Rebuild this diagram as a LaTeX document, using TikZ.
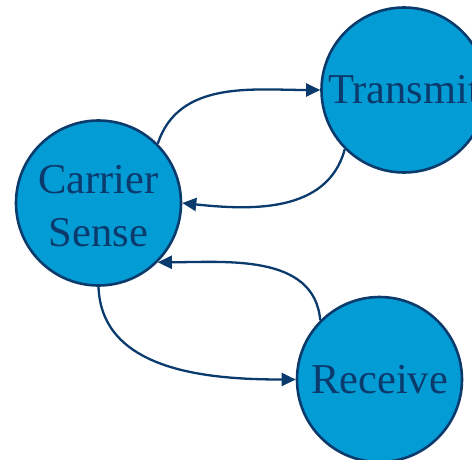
\documentclass[tikz,border=0pt]{standalone}
\usepackage{fontspec}
\setmainfont{Liberation Serif}
\usepackage{tikz}
\usetikzlibrary{arrows.meta}
\definecolor{bluex}{HTML}{049CD5}
\definecolor{navyx}{HTML}{0B3A6C}
\tikzset{
  st/.style={circle,draw=navyx,line width=2.6pt,fill=bluex,text=navyx,minimum size=165pt,inner sep=0pt,align=center,font=\fontsize{42.5}{53}\selectfont},
  lb/.style={text=navyx,inner sep=0pt,align=center,font=\fontsize{42.5}{53}\selectfont},
  ar/.style={-{Triangle[length=14pt,width=13pt]},line width=2.3pt,navyx}
}
\begin{document}
\begin{tikzpicture}[x=1pt,y=-1pt]
\useasboundingbox (0,0) rectangle (472,459);
\node[st] (cs) at (98.5,203) {};
\node[lb] (cslabel) at ([yshift=-3pt]cs.center) {Carrier\\Sense};
\node[st] (tx) at (404,90) {Transmit};
\node[st] (rx) at (379.5,379.5) {Receive};
% sense <-> transmit
\draw[ar] (cs.45) to[out=72,in=180] (tx.180);
\draw[ar] (tx.225) to[out=-105,in=-6] (cs.0);
% sense <-> receive
\draw[ar] (rx.135) to[out=95,in=0] (cs.-45);
\draw[ar] (cs.-90) to[out=-88,in=180] (rx.180);
\end{tikzpicture}
\end{document}
